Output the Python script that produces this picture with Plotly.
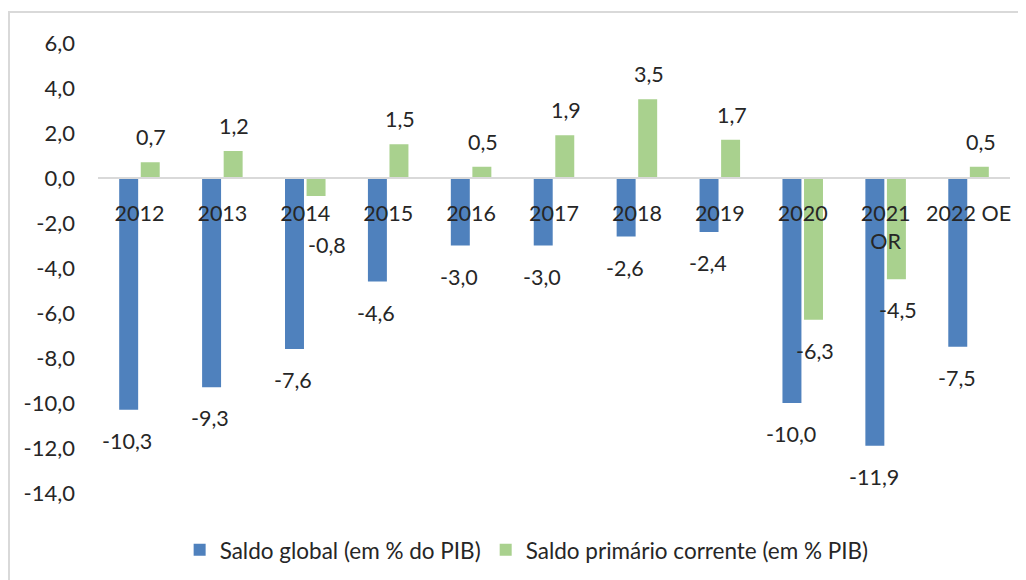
import plotly.graph_objects as go

categories = ["2012", "2013", "2014", "2015", "2016", "2017", "2018", "2019", "2020", "2021 OR", "2022 OE"]
category_labels = ["2012", "2013", "2014", "2015", "2016", "2017", "2018", "2019", "2020", "2021<br>OR", "2022 OE"]
saldo_global = [-10.3, -9.3, -7.6, -4.6, -3.0, -3.0, -2.6, -2.4, -10.0, -11.9, -7.5]
saldo_primario = [0.7, 1.2, -0.8, 1.5, 0.5, 1.9, 3.5, 1.7, -6.3, -4.5, 0.5]
series_names = ["Saldo global (em % do PIB)", "Saldo primário corrente (em % PIB)"]
y_ticks = [6, 4, 2, 0, -2, -4, -6, -8, -10, -12, -14]

BLUE = "#4f81bd"
GREEN = "#a9d18e"
FONT = "Lato, Carlito, Calibri, sans-serif"
TXT = "#262626"


def fmt(v):
    return f"{v:.1f}".replace(".", ",")


fig = go.Figure()
fig.add_trace(go.Bar(x=categories, y=saldo_global, name=series_names[0],
                     marker=dict(color=BLUE, line=dict(width=0))))
fig.add_trace(go.Bar(x=categories, y=saldo_primario, name=series_names[1],
                     marker=dict(color=GREEN, line=dict(width=0))))

annotations = []
for vals, xs in ((saldo_global, -12), (saldo_primario, 12)):
    for i, v in enumerate(vals):
        if v >= 0:
            ys, xx = 25, 0
        elif v > -2:
            ys, xx = -49, 10
        else:
            ys, xx = -31, 0
        annotations.append(dict(x=i, y=v, xref="x", yref="y", text=fmt(v), showarrow=False,
                                xshift=xs + xx, yshift=ys, yanchor="middle",
                                font=dict(family=FONT, size=21.5, color=TXT)))

fig.update_layout(
    width=1026, height=580,
    margin=dict(l=90, r=24, t=35, b=95),
    paper_bgcolor="white", plot_bgcolor="white",
    barmode="group", bargap=0.48, bargroupgap=0.12,
    font=dict(family=FONT, size=20, color=TXT),
    showlegend=True,
    legend=dict(orientation="h", x=0.47, xanchor="center", y=-0.127, yanchor="middle",
                font=dict(family=FONT, size=22.5, color=TXT), itemwidth=30),
    annotations=annotations,
    shapes=[dict(type="rect", xref="paper", yref="paper", x0=-0.0976, x1=1.2,
                 y0=-0.4, y1=1.0689, line=dict(color="#d9d9d9", width=2), layer="below")],
)
fig.update_xaxes(type="category", categoryorder="array", categoryarray=categories,
                 range=[-0.5, len(categories) - 0.5], autorange=False,
                 tickvals=categories, ticktext=category_labels,
                 anchor="free", position=(0 - (-14)) / 20, showline=True,
                 linecolor="#d9d9d9", linewidth=2, ticks="", showgrid=False,
                 zeroline=False, ticklabelstandoff=16,
                 tickfont=dict(family=FONT, size=21.5, color=TXT))
fig.update_yaxes(range=[-14, 6], autorange=False, tickvals=y_ticks, ticktext=[fmt(t) for t in y_ticks],
                 showgrid=False, zeroline=False, showline=False, ticks="",
                 ticklabelstandoff=22, domain=[0, 1],
                 tickfont=dict(family=FONT, size=22, color=TXT))

fig.write_html("out.html")
